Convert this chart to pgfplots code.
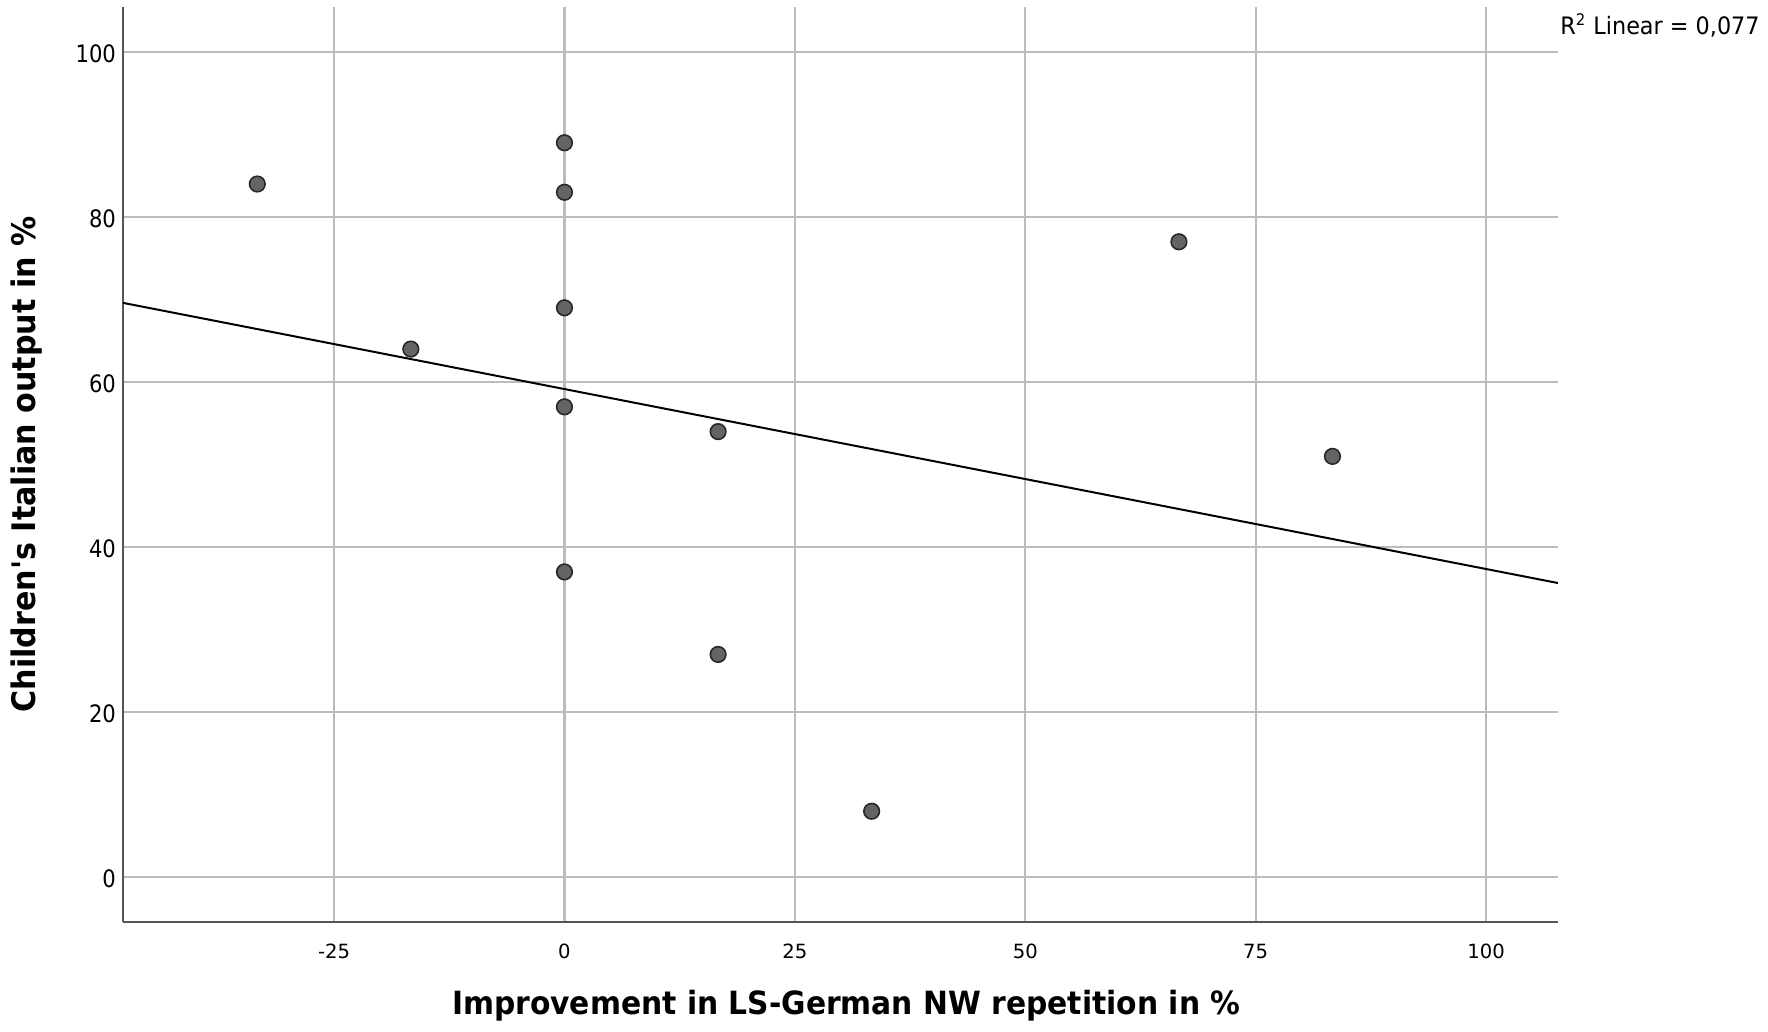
\documentclass[border=0pt]{standalone}
\usepackage{fontspec}
\setmainfont{DejaVu Sans}
\newfontfamily\narrowA[FakeStretch=0.88]{DejaVu Sans}
\newfontfamily\narrowR[FakeStretch=0.93]{DejaVu Sans}
\newfontfamily\narrowB[FakeStretch=0.93]{DejaVu Sans}
\usepackage{pgfplots}
\pgfplotsset{compat=1.18}
\definecolor{gridgray}{RGB}{188,188,188}
\definecolor{axisgray}{RGB}{85,85,85}
\definecolor{markfill}{RGB}{100,100,100}
\definecolor{markedge}{RGB}{40,40,40}
\begin{document}
\begin{tikzpicture}
\begin{axis}[
  at={(61.5pt,55pt)}, anchor=south west,
  width=717.5pt, height=457.7pt, scale only axis,
  xmin=-47.9, xmax=107.8, ymin=-5.42, ymax=105.5,
  axis lines=left,
  axis line style={-, draw=axisgray, line width=1pt},
  xtick={-25,0,25,50,75,100},
  ytick={0,20,40,60,80,100},
  major tick length=0pt,
  grid=major,
  major grid style={draw=gridgray, line width=1.2pt},
  /pgf/number format/assume math mode=true,
  xticklabel style={font=\fontsize{9.8}{12}\selectfont, yshift=-7.5pt},
  yticklabel style={font=\narrowA\fontsize{12}{14}\selectfont, yshift=-1pt},
  xlabel={Improvement in LS-German NW repetition in \%},
  ylabel={Children's Italian output in \%},
  xlabel style={font=\narrowB\bfseries\fontsize{16}{19}\selectfont, at={(axis description cs:0.504,-0.1016)}, anchor=base},
  ylabel style={font=\narrowB\bfseries\fontsize{16.2}{19}\selectfont, at={(axis description cs:-0.0613,0.5)}, anchor=base},
]
\addplot[black, line width=1pt] coordinates {(-47.9,69.6) (107.8,35.65)};
\addplot[only marks, mark=*, mark size=3.9pt, mark options={fill=markfill, draw=markedge, line width=0.8pt}] coordinates {
(-33.33,84) (-16.67,64) (0,89) (0,83) (0,69) (0,57) (0,37)
(16.67,54) (16.67,27) (33.33,8) (66.67,77) (83.33,51)
};
\end{axis}
\node[anchor=base west, inner sep=0pt, font=\narrowR\fontsize{12}{14}\selectfont] at (780pt,498.75pt) {R\textsuperscript{2} Linear = 0,077};
\pgfresetboundingbox
\path (0,0) rectangle (884pt,516pt);
\end{tikzpicture}
\end{document}
